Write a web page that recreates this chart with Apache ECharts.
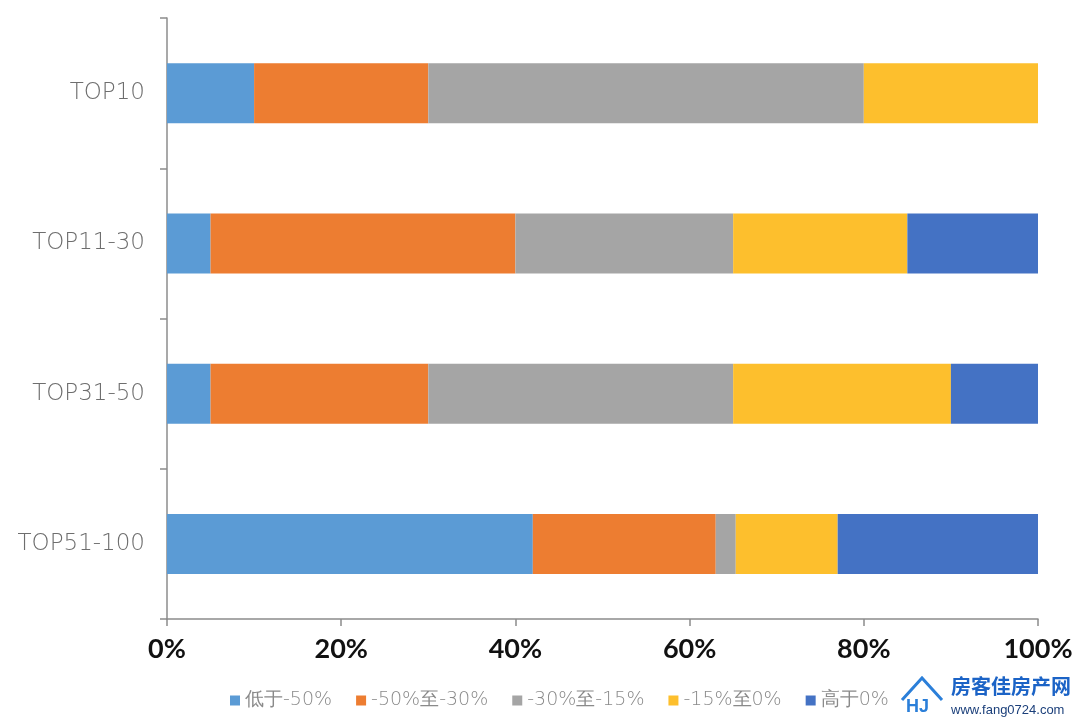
<!DOCTYPE html>
<html><head><meta charset="utf-8">
<script src="https://cdn.jsdelivr.net/npm/echarts@6/dist/echarts.min.js"></script>
<style>html,body{margin:0;padding:0;background:#fff}#c{width:1080px;height:723px}</style>
</head><body><div id="c"></div>
<script>
const categories = ['TOP10', 'TOP11-30', 'TOP31-50', 'TOP51-100'];
const seriesNames = ['低于-50%', '-50%至-30%', '-30%至-15%', '-15%至0%', '高于0%'];
const below50 = [10, 5, 5, 42];
const from50to30 = [20, 35, 25, 21];
const from30to15 = [50, 25, 35, 2.3];
const from15to0 = [20, 20, 25, 11.7];
const above0 = [0, 15, 10, 23];
const xTicks = ['0%', '20%', '40%', '60%', '80%', '100%'];

const colors = ['#5B9BD5', '#ED7D31', '#A5A5A5', '#FDBF2D', '#4472C4'];
const values = [below50, from50to30, from30to15, from15to0, above0];

const chart = echarts.init(document.getElementById('c'));
chart.setOption({
  animation: false,
  color: colors,
  grid: { left: 167, right: 42, top: 18, bottom: 104 },
  legend: {
    left: 225, top: 686,
    itemWidth: 10, itemHeight: 10, itemGap: 24,
    icon: 'rect',
    textStyle: { color: '#8a8a8a', fontSize: 19, fontFamily: 'DejaVu Sans', fontWeight: 200 },
    data: seriesNames
  },
  xAxis: {
    type: 'value', min: 0, max: 100, interval: 20,
    axisLine: { show: true, lineStyle: { color: '#8c8c8c', width: 1.5 } },
    axisTick: { show: true, length: 7, lineStyle: { color: '#8c8c8c', width: 1.5 } },
    splitLine: { show: false },
    axisLabel: {
      margin: 17, color: '#111', fontSize: 27, fontWeight: 'bold', fontFamily: 'Lato',
      formatter: function (v) { return xTicks[Math.round(v / 20)]; }
    }
  },
  yAxis: {
    type: 'category', data: categories, inverse: true,
    axisLine: { show: true, lineStyle: { color: '#8c8c8c', width: 1.5 } },
    axisTick: { show: true, length: 7, lineStyle: { color: '#8c8c8c', width: 1.5 } },
    axisLabel: { margin: 22, color: '#6e6e6e', fontSize: 23, fontFamily: 'DejaVu Sans', fontWeight: 200 }
  },
  series: seriesNames.map((n, i) => ({
    name: n, type: 'bar', stack: 'total', barWidth: 60,
    data: values[i],
    itemStyle: { color: colors[i] }
  })),
  graphic: [
    { type: 'text', left: 951, top: 676, style: { text: '房客佳房产网', fill: '#1b63c6', font: 'bold 20px "Noto Sans CJK SC"' } },
    { type: 'text', left: 951, top: 704, style: { text: 'www.fang0724.com', fill: '#1b3f7a', font: '13px "Liberation Sans Narrow", "Liberation Sans"' } },
    { type: 'polyline', shape: { points: [[902, 700], [922, 678], [942, 700]] }, style: { stroke: '#2b7fd9', lineWidth: 3, fill: null } },
    { type: 'text', left: 906, top: 698, style: { text: 'HJ', fill: '#2b7fd9', font: 'bold 18px "Liberation Sans"' } }
  ]
});
</script>
</body></html>
